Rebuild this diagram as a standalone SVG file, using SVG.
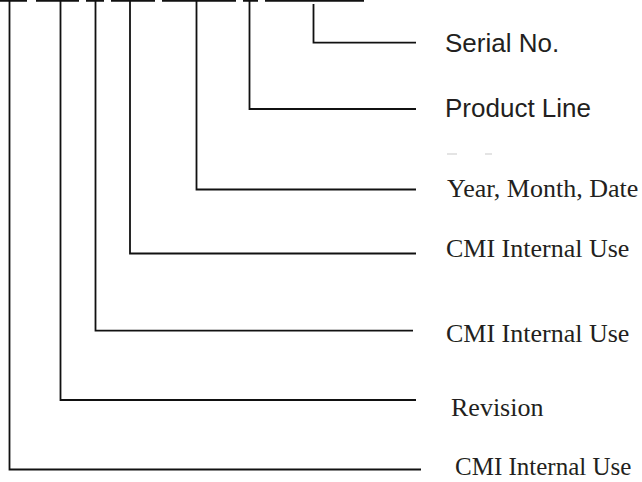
<svg xmlns="http://www.w3.org/2000/svg" width="642" height="482" viewBox="0 0 642 482">
  <style>
    .ln { stroke: #111; stroke-width: 1.8; fill: none; stroke-linecap: butt; }
    .faint { stroke: #dcdcdc; stroke-width: 1.5; }
    .sans { font-family: "Liberation Sans", Arial, sans-serif; font-size: 26px; fill: #231f20; }
    .serif { font-family: "Liberation Serif", "Times New Roman", serif; font-size: 26px; fill: #231f20; }
  </style>
  <rect width="642" height="482" fill="#ffffff"/>
  <g id="code-segments">
    <path class="ln" d="M0 0.8H27 M36 0.8H79 M86 0.8H104 M111 0.8H155 M162 0.8H236 M243 0.8H258 M265 0.8H364"/>
  </g>
  <g id="connectors">
    <path class="ln" d="M313.5 4V42.7H416"/>
    <path class="ln" d="M249.5 0V109H416"/>
    <path class="ln" d="M196.5 0V189.5H416"/>
    <path class="ln" d="M130 0V253.5H416"/>
    <path class="ln" d="M95.5 0V330.7H413"/>
    <path class="ln" d="M60.5 0V400H416"/>
    <path class="ln" d="M9.5 0V469.5H421"/>
    <path class="faint" d="M447 154H457 M485 154H492"/>
  </g>
  <g id="serial-no"><text class="sans" x="445" y="52">Serial No.</text></g>
  <g id="product-line"><text class="sans" x="445" y="117">Product Line</text></g>
  <g id="year-month-date"><text class="serif" x="447" y="197">Year, Month, Date</text></g>
  <g id="cmi-internal-1"><text class="serif" x="446" y="257">CMI Internal Use</text></g>
  <g id="cmi-internal-2"><text class="serif" x="446" y="342">CMI Internal Use</text></g>
  <g id="revision"><text class="serif" x="451" y="416">Revision</text></g>
  <g id="cmi-internal-3"><text class="serif" x="455" y="475" style="font-size:25px">CMI Internal Use</text></g>
</svg>
